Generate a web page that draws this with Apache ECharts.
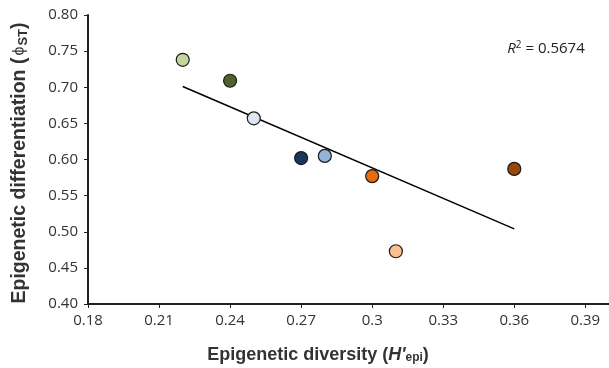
<!DOCTYPE html>
<html><head><meta charset="utf-8">
<script src="https://cdn.jsdelivr.net/npm/echarts@6/dist/echarts.min.js"></script>
<style>html,body{margin:0;padding:0;background:#fff}#c{width:609px;height:368px}</style>
</head><body><div id="c"></div>
<script>
const diversity = [0.22, 0.24, 0.25, 0.27, 0.28, 0.30, 0.31, 0.36];
const differentiation = [0.738, 0.709, 0.657, 0.602, 0.605, 0.577, 0.473, 0.587];
const pointColors = ['#C3D69B', '#4F6228', '#DCE6F2', '#17375E', '#95B3D7', '#E46C0A', '#FAC090', '#984807'];
const trendX = [0.22, 0.36];
const trendY = [0.701, 0.504];
const rSquared = '0.5674';

const chart = echarts.init(document.getElementById('c'));
const font = '"Open Sans", sans-serif';
const tfont = '"Liberation Sans", Arial, sans-serif';
chart.setOption({
  animation: false,
  grid: { left: 88, right: 0, top: 15, bottom: 64 },
  xAxis: {
    type: 'value', min: 0.18, max: 0.40, interval: 0.03,
    splitLine: { show: false },
    axisLine: { lineStyle: { color: '#231f20', width: 2 } },
    axisTick: { length: 4, lineStyle: { color: '#231f20', width: 1 } },
    axisLabel: { showMaxLabel: false, margin: 9, fontFamily: font, fontSize: 15, color: '#333',
      formatter: v => String(parseFloat(v.toFixed(2))) }
  },
  yAxis: {
    type: 'value', min: 0.40, max: 0.80, interval: 0.05,
    splitLine: { show: false },
    axisLine: { show: true, lineStyle: { color: '#231f20', width: 2 } },
    axisTick: { show: true, length: 4, lineStyle: { color: '#231f20', width: 1 } },
    axisLabel: { margin: 10, fontFamily: font, fontSize: 15, color: '#333',
      formatter: v => v.toFixed(2) }
  },
  series: [
    {
      type: 'line', data: trendX.map((x, i) => [x, trendY[i]]),
      symbol: 'none', lineStyle: { color: '#000', width: 1.5 }, z: 2
    },
    {
      type: 'scatter', symbolSize: 13, z: 3,
      data: diversity.map((x, i) => ({ value: [x, differentiation[i]],
        itemStyle: { color: pointColors[i], borderColor: '#1a1a1a', borderWidth: 1.2, opacity: 1 } }))
    }
  ],
  graphic: [
    {
      type: 'text', x: 318, y: 355,
      style: {
        text: '{b|Epigenetic diversity (}{i|H\'}{s|epi}{b|)}',
        align: 'center', verticalAlign: 'middle',
        rich: {
          b: { fontFamily: tfont, fontWeight: 'bold', fontSize: 18, fill: '#333' },
          i: { fontFamily: tfont, fontWeight: 'bold', fontStyle: 'italic', fontSize: 18, fill: '#333' },
          s: { fontFamily: tfont, fontWeight: 'bold', fontSize: 12, fill: '#333', padding: [6, 0, 0, 0] }
        }
      }
    },
    {
      type: 'text', x: 20, y: 163, rotation: Math.PI / 2,
      style: {
        text: '{b|Epigenetic differentiation (}{p|ϕ}{s|ST}{b|)}',
        align: 'center', verticalAlign: 'middle',
        rich: {
          b: { fontFamily: tfont, fontWeight: 'bold', fontSize: 19.5, fill: '#333' },
          p: { fontFamily: tfont, fontWeight: 'normal', fontSize: 16, fill: '#333', padding: [0, 1, 0, 2] },
          s: { fontFamily: tfont, fontWeight: 'bold', fontSize: 13, fill: '#333', padding: [6, 0, 0, 0] }
        }
      }
    },
    {
      type: 'text', x: 546, y: 49,
      style: {
        text: '{i|R}{sup|2}{n| = ' + rSquared + '}',
        align: 'center', verticalAlign: 'middle',
        rich: {
          i: { fontFamily: font, fontStyle: 'italic', fontSize: 15, fill: '#222' },
          sup: { fontFamily: font, fontSize: 10, fill: '#222', padding: [0, 0, 8, 0] },
          n: { fontFamily: font, fontSize: 15, fill: '#222' }
        }
      }
    }
  ]
});
</script></body></html>
